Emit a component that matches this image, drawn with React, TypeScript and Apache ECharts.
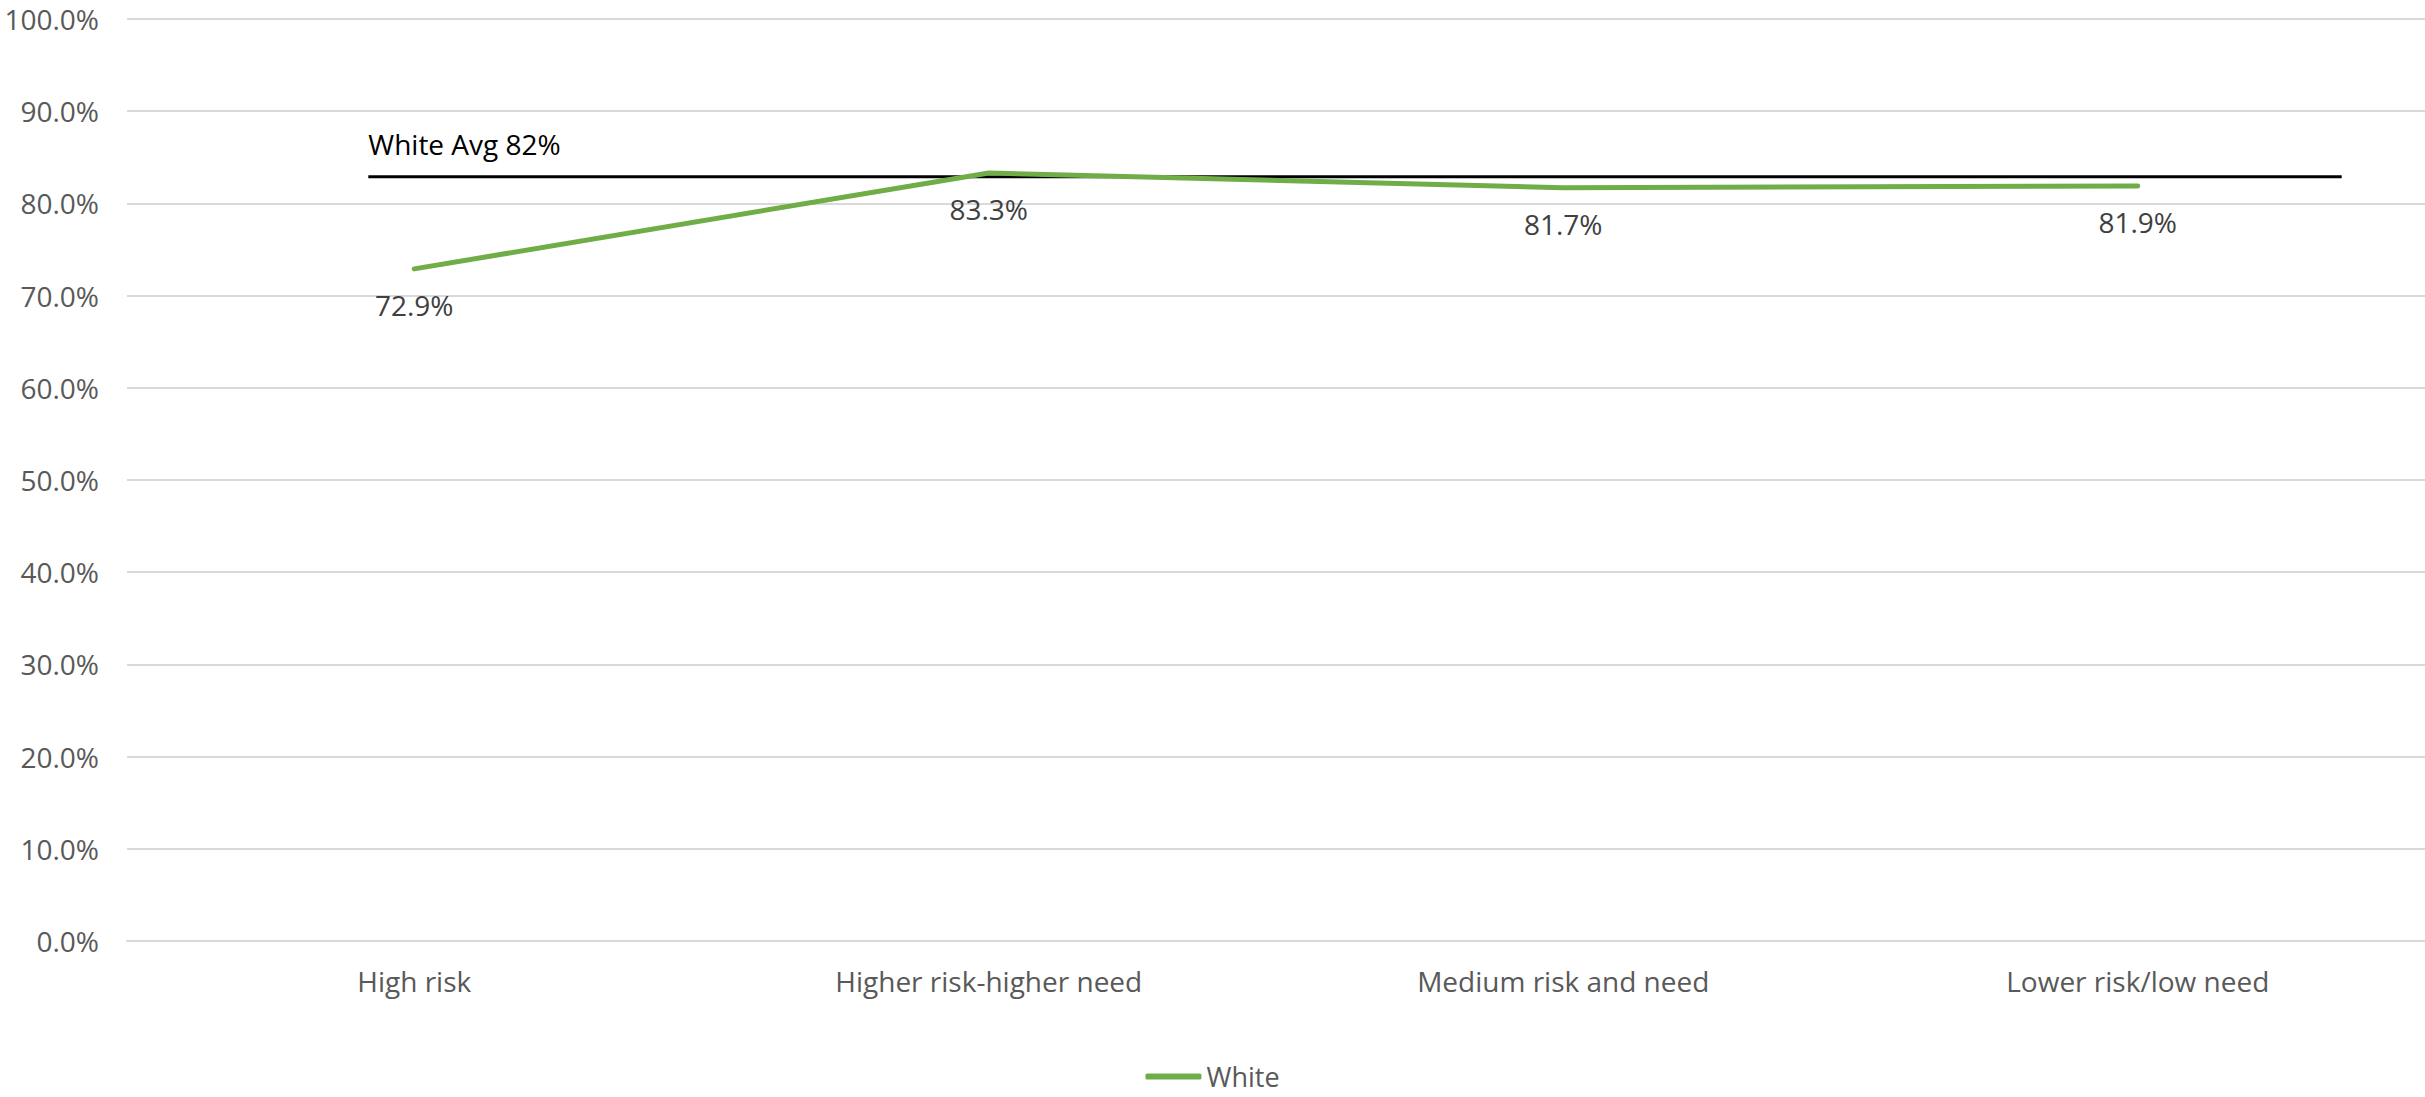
import React, { useEffect, useRef } from "react";
import * as echarts from "echarts";

const categories = ["High risk", "Higher risk-higher need", "Medium risk and need", "Lower risk/low need"];
const whiteValues = [72.9, 83.3, 81.7, 81.9];
const avgValue = 82.9;
const avgLabel = "White Avg 82%";
const avgSpan = [0.42, 3.855]; // in category-width units along the x axis
const yTicks = { min: 0, max: 100, interval: 10 };

const FONT = "'Open Sans', 'Noto Sans', sans-serif";

export default function App() {
  const ref = useRef<HTMLDivElement>(null);
  useEffect(() => {
    if (!ref.current) return;
    const chart = echarts.init(ref.current, undefined, { renderer: "svg" });
    chart.setOption({
      animation: false,
      backgroundColor: "#ffffff",
      textStyle: { fontFamily: FONT },
      grid: { left: 127, right: 0, top: 19, bottom: 156, containLabel: false },
      legend: {
        top: 1058,
        left: "center",
        itemWidth: 56,
        itemHeight: 6,
        icon: "roundRect",
        data: [{ name: "White", itemStyle: { color: "#70AD47", opacity: 1 } }],
        textStyle: { fontSize: 27, lineHeight: 26, color: "#595959", fontFamily: FONT },
      },
      xAxis: [
        {
          type: "category",
          data: categories,
          boundaryGap: true,
          axisLine: { show: true, lineStyle: { color: "#D9D9D9", width: 2 } },
          axisTick: { show: false },
          axisLabel: { fontSize: 28, color: "#595959", margin: 26, fontFamily: FONT },
        },
        { type: "value", min: 0, max: 4, show: false },
      ],
      yAxis: {
        type: "value",
        min: yTicks.min,
        max: yTicks.max,
        interval: yTicks.interval,
        axisLine: { show: false },
        axisTick: { show: false },
        splitLine: { lineStyle: { color: "#D9D9D9", width: 2 } },
        axisLabel: {
          fontSize: 28,
          lineHeight: 28,
          color: "#595959",
          margin: 28,
          fontFamily: FONT,
          formatter: (v: number) => v.toFixed(1) + "%",
        },
      },
      series: [
        {
          name: "White",
          type: "line",
          data: whiteValues,
          showSymbol: true,
          symbol: "circle",
          symbolSize: 1,
          lineStyle: { color: "#70AD47", width: 5, cap: "round", join: "round" },
          itemStyle: { color: "#70AD47", opacity: 0 },
          label: {
            show: true,
            position: "bottom",
            distance: 22,
            fontSize: 28,
            color: "#404040",
            opacity: 1,
            fontFamily: FONT,
            formatter: (p: any) => Number(p.value).toFixed(1) + "%",
          },
          z: 3,
        },
        {
          name: "Avg",
          type: "line",
          xAxisIndex: 1,
          data: [
            [avgSpan[0], avgValue],
            [avgSpan[1], avgValue],
          ],
          showSymbol: true,
          symbol: "circle",
          symbolSize: 1,
          itemStyle: { color: "#000000", opacity: 0 },
          lineStyle: { color: "#000000", width: 3 },
          label: {
            show: true,
            position: "top",
            align: "left",
            distance: 18,
            fontSize: 28,
            color: "#000000",
            opacity: 1,
            fontFamily: FONT,
            formatter: (p: any) => (p.dataIndex === 0 ? avgLabel : ""),
          },
          z: 2,
        },
      ],
    });
    return () => chart.dispose();
  }, []);
  return (
    <div
      ref={ref}
      style={{ position: "fixed", left: 0, top: 0, width: 2425, height: 1097, background: "#fff" }}
    />
  );
}
